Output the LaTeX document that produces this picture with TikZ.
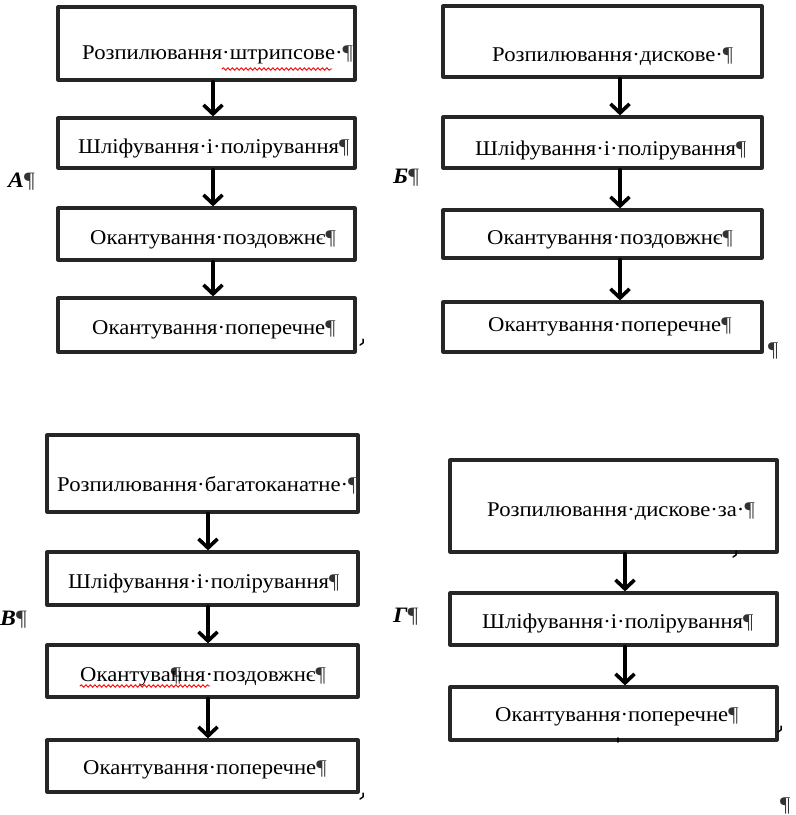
\documentclass[tikz,border=0pt]{standalone}
\usepackage{fontspec}
\setmainfont[FakeStretch=1.08]{Liberation Serif}
\usetikzlibrary{arrows.meta, decorations.pathmorphing}
\newcommand{\pf}{{\color{black!80}¶}}

\begin{document}
\begin{tikzpicture}[x=1pt, y=-1pt, line cap=round, line join=round,
  blok/.style={draw=black!85, line width=3.2pt, inner sep=0pt},
  napys/.style={anchor=west, inner sep=0pt, font=\fontsize{21}{24}\selectfont},
  litera/.style={anchor=west, inner sep=0pt, font=\fontsize{22}{24}\selectfont\bfseries\itshape},
  strilka/.style={line width=3.6pt, -{Straight Barb[length=9pt,width=19pt]}},
  pomylka/.style={red, line width=0.9pt, decorate,
    decoration={snake, amplitude=1.3pt, segment length=4.5pt}},
  hachok/.style={line width=1.5pt}]

\useasboundingbox (0,0) rectangle (796,815);

% А: штрипсове
\node[blok, minimum width=297, minimum height=73] (a1) at (206.5,43.5) {};
\node[blok, minimum width=297, minimum height=50] (a2) at (206.5,143) {};
\node[blok, minimum width=297, minimum height=52] (a3) at (206.5,234) {};
\node[blok, minimum width=297, minimum height=54] (a4) at (206.5,325) {};
\node[napys] (a1t) at (82,55) {Розпилювання·штрипсове·\pf};
\node[napys] (a2t) at (78,148) {Шліфування·і·полірування\pf};
\node[napys] (a3t) at (90,240) {Окантування·поздовжнє\pf};
\node[napys] (a4t) at (92,330) {Окантування·поперечне\pf};
\draw[strilka] ([xshift=6.5]a1.south) -- ([xshift=6.5]a2.north);
\draw[strilka] ([xshift=6.5]a2.south) -- ([xshift=6.5]a3.north);
\draw[strilka] ([xshift=6.5]a3.south) -- ([xshift=6.5]a4.north);
\draw[pomylka] (222,69) -- (332,69);
\node[litera] (la) at (8,182) {А{\mdseries\upshape\pf}};

% Б: дискове
\node[blok, minimum width=319, minimum height=71] (b1) at (602.5,41.5) {};
\node[blok, minimum width=319, minimum height=51] (b2) at (602.5,142.5) {};
\node[blok, minimum width=319, minimum height=48] (b3) at (602.5,234) {};
\node[blok, minimum width=319, minimum height=50] (b4) at (602.5,327) {};
\node[napys] (b1t) at (492,57) {Розпилювання·дискове·\pf};
\node[napys] (b2t) at (475,150) {Шліфування·і·полірування\pf};
\node[napys] (b3t) at (487,240) {Окантування·поздовжнє\pf};
\node[napys] (b4t) at (488,327) {Окантування·поперечне\pf};
\draw[strilka] ([xshift=17.5]b1.south) -- ([xshift=17.5]b2.north);
\draw[strilka] ([xshift=17.5]b2.south) -- ([xshift=17.5]b3.north);
\draw[strilka] ([xshift=17.5]b3.south) -- ([xshift=17.5]b4.north);
\node[litera] (lb) at (393,178) {Б{\mdseries\upshape\pf}};
\node[napys] (pb) at (768,351) {\pf};

% В: багатоканатне
\node[blok, minimum width=311, minimum height=77] (v1) at (202.5,473.5) {};
\node[blok, minimum width=311, minimum height=53] (v2) at (202.5,578.5) {};
\node[blok, minimum width=311, minimum height=52] (v3) at (202.5,671) {};
\node[blok, minimum width=311, minimum height=52] (v4) at (202.5,766) {};
\node[napys] (v1t) at (57,485) {Розпилювання·багатоканатне·\pf};
\node[napys] (v2t) at (68,583) {Шліфування·і·полірування\pf};
\node[napys] (v3t) at (80,677) {Окантува\rlap{\pf}ння·поздовжнє\pf};
\node[napys] (v4t) at (83,770) {Окантування·поперечне\pf};
\draw[strilka] ([xshift=5.5]v1.south) -- ([xshift=5.5]v2.north);
\draw[strilka] ([xshift=5.5]v2.south) -- ([xshift=5.5]v3.north);
\draw[strilka] ([xshift=5.5]v3.south) -- ([xshift=5.5]v4.north);
\draw[pomylka] (80,686) -- (210,686);
\node[litera] (lv) at (0,620) {В{\mdseries\upshape\pf}};

% Г: дискове за
\node[blok, minimum width=327, minimum height=92] (g1) at (613.5,506) {};
\node[blok, minimum width=327, minimum height=52] (g2) at (613.5,619) {};
\node[blok, minimum width=327, minimum height=53] (g3) at (613.5,713.5) {};
\node[napys] (g1t) at (487,512) {Розпилювання·дискове·за·\pf};
\node[napys] (g2t) at (482,623) {Шліфування·і·полірування\pf};
\node[napys] (g3t) at (495,717) {Окантування·поперечне\pf};
\draw[strilka] ([xshift=11.5]g1.south) -- ([xshift=11.5]g2.north);
\draw[strilka] ([xshift=11.5]g2.south) -- ([xshift=11.5]g3.north);
\node[litera] (lg) at (393,617) {Г{\mdseries\upshape\pf}};
\node[napys] (pg) at (780,806) {\pf};

% гачки
\draw[hachok] (363,339) -- (363,343) -- (360,345);
\draw[hachok] (363,793) -- (363,797) -- (360,799);
\draw[hachok] (736,551) -- (736,555) -- (733,557);
\draw[hachok] (781,726) -- (781,730) -- (778,732);
\draw[hachok] (618,738) -- (618,742);
\end{tikzpicture}
\end{document}
